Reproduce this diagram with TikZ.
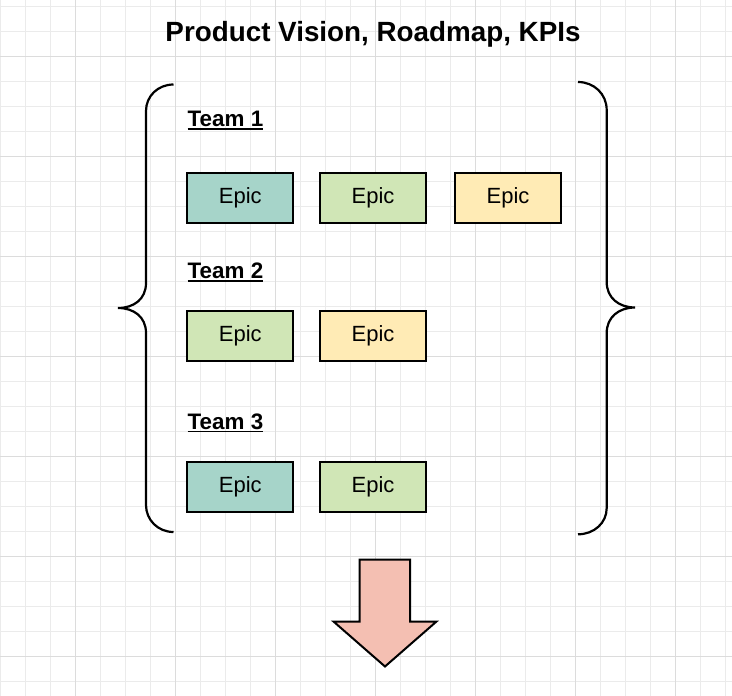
\documentclass[tikz,border=0pt]{standalone}
\usepackage{fontspec}
\setmainfont{Liberation Sans}
\definecolor{gridminor}{HTML}{EBEBEB}
\definecolor{gridmajor}{HTML}{DCDCDC}
\definecolor{epicteal}{HTML}{A6D4C9}
\definecolor{epicgreen}{HTML}{D0E6B6}
\definecolor{epicyellow}{HTML}{FFEBB5}
\definecolor{arrowsalmon}{HTML}{F4BFB2}
\newcommand\myul[1]{\setbox0\hbox{#1}\rlap{\rule[-3.2pt]{\wd0}{1.7pt}}\box0}
\begin{document}
\begin{tikzpicture}[x=1pt,y=-1pt,
  minorline/.style={gridminor,line width=0.9pt},
  majorline/.style={gridmajor,line width=1.1pt},
  epicbox/.style={draw=black,line width=2pt,minimum width=106pt,minimum height=50pt,inner sep=0pt,font=\fontsize{22}{26}\selectfont},
  teamlabel/.style={anchor=base west,inner sep=0pt,font=\fontsize{22.4}{26}\selectfont\bfseries},
  bracepath/.style={line width=2.2pt,line cap=butt},
]
\useasboundingbox (0,0) rectangle (732,696);
\fill[white] (0,0) rectangle (732,696);
% grid
\foreach \i in {0,...,29} {
  \draw[minorline] (0.7+25*\i,0) -- (0.7+25*\i,696);
}
\foreach \j in {0,...,28} {
  \draw[minorline] (0,6.3+25*\j) -- (732,6.3+25*\j);
}
\foreach \i in {0,...,6} {
  \draw[majorline] (75.7+100*\i,0) -- (75.7+100*\i,696);
}
\foreach \j in {0,...,6} {
  \draw[majorline] (0,56.3+100*\j) -- (732,56.3+100*\j);
}
% title
\node[anchor=base,inner sep=0pt,font=\fontsize{27.8}{32}\selectfont\bfseries] (title) at (373,41.7) {Product Vision, Roadmap, KPIs};
% team labels
\node[teamlabel] (team1) at (187.5,126.7) {\myul{Team 1}};
\node[teamlabel] (team2) at (187.5,278.3) {\myul{Team 2}};
\node[teamlabel] (team3) at (187.5,429) {\myul{Team 3}};
% epics
\node[epicbox,fill=epicteal]   (e11) at (240.3,197.6) {Epic};
\node[epicbox,fill=epicgreen]  (e12) at (373,197.6) {Epic};
\node[epicbox,fill=epicyellow] (e13) at (508,197.6) {Epic};
\node[epicbox,fill=epicgreen]  (e21) at (240.3,336) {Epic};
\node[epicbox,fill=epicyellow] (e22) at (373,336) {Epic};
\node[epicbox,fill=epicteal]   (e31) at (240.3,487) {Epic};
\node[epicbox,fill=epicgreen]  (e32) at (373,487) {Epic};
% left brace
\draw[bracepath] (173.5,84.5) .. controls (158,84.5) and (146,96) .. (146,111)
  -- (146,283) .. controls (146,299) and (134,308) .. (118,308)
  .. controls (134,308) and (146,317) .. (146,333)
  -- (146,505) .. controls (146,520) and (158,532) .. (173.5,532);
% right brace
\draw[bracepath] (578,82) .. controls (594,82) and (606.7,94) .. (606.7,110)
  -- (606.7,282) .. controls (606.7,298) and (619,307.5) .. (635,307.5)
  .. controls (619,307.5) and (606.7,317) .. (606.7,333)
  -- (606.7,508) .. controls (606.7,523) and (594,534.3) .. (578,534.3);
% down arrow
\draw[fill=arrowsalmon,line width=2pt,line join=miter] (359.5,559.5) -- (410,559.5) -- (410,621.5) -- (436.5,621.5) -- (385,666.5) -- (333.5,621.5) -- (359.5,621.5) -- cycle;
\end{tikzpicture}
\end{document}
